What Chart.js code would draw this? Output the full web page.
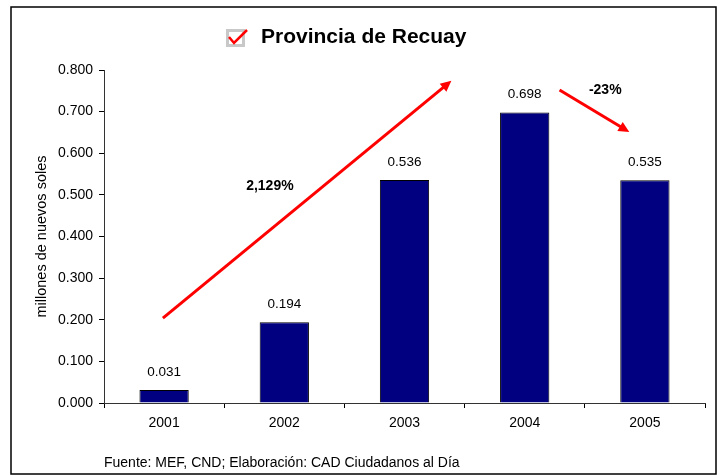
<!DOCTYPE html>
<html lang="es">
<head>
<meta charset="utf-8">
<title>Provincia de Recuay</title>
<script src="https://cdn.jsdelivr.net/npm/chart.js@4.4.0/dist/chart.umd.min.js"></script>
<style>
  body { margin: 0; background: #fff; }
  #wrap { width: 725px; height: 476px; }
</style>
</head>
<body>
<div id="wrap"><canvas id="recuay" width="725" height="476"></canvas></div>
<script>
const years = ['2001', '2002', '2003', '2004', '2005'];
const montos = [0.031, 0.194, 0.536, 0.698, 0.535];
const yTicks = [0, 0.1, 0.2, 0.3, 0.4, 0.5, 0.6, 0.7, 0.8];

// arrows and percentage labels, in data space (category index, value)
const flechas = [
  { from: [-0.01, 0.204], to: [2.39, 0.774] },
  { from: [3.29, 0.752], to: [3.87, 0.651] }
];
const rotulos = [
  { text: '2,129%', at: [0.88, 0.521] },
  { text: '-23%', at: [3.67, 0.752] }
];

const FONT = '"Liberation Sans", Arial, sans-serif';

const extras = {
  id: 'extras',
  afterDatasetsDraw(chart) {
    const { ctx, scales: { x, y } } = chart;
    ctx.save();
    // value labels
    ctx.fillStyle = '#000';
    ctx.font = '13.5px ' + FONT;
    ctx.textAlign = 'center';
    ctx.textBaseline = 'bottom';
    chart.getDatasetMeta(0).data.forEach((bar, i) => {
      ctx.fillText(montos[i].toFixed(3), bar.x, bar.y - 11);
    });
    // arrows
    ctx.strokeStyle = '#ff0000';
    ctx.fillStyle = '#ff0000';
    ctx.lineWidth = 3;
    flechas.forEach(f => {
      const x1 = x.getPixelForValue(f.from[0]), y1 = y.getPixelForValue(f.from[1]);
      const x2 = x.getPixelForValue(f.to[0]), y2 = y.getPixelForValue(f.to[1]);
      const a = Math.atan2(y2 - y1, x2 - x1);
      const head = 12;
      ctx.beginPath();
      ctx.moveTo(x1, y1);
      ctx.lineTo(x2 - Math.cos(a) * head * 0.8, y2 - Math.sin(a) * head * 0.8);
      ctx.stroke();
      ctx.beginPath();
      ctx.moveTo(x2, y2);
      ctx.lineTo(x2 - head * Math.cos(a - 0.45), y2 - head * Math.sin(a - 0.45));
      ctx.lineTo(x2 - head * Math.cos(a + 0.45), y2 - head * Math.sin(a + 0.45));
      ctx.closePath();
      ctx.fill();
    });
    // percentage labels
    ctx.fillStyle = '#000';
    ctx.font = 'bold 14px ' + FONT;
    ctx.textBaseline = 'middle';
    rotulos.forEach(r => {
      ctx.fillText(r.text, x.getPixelForValue(r.at[0]), y.getPixelForValue(r.at[1]));
    });
    ctx.restore();
  },
  afterDraw(chart) {
    const ctx = chart.ctx;
    ctx.save();
    // outer frame
    ctx.strokeStyle = '#000';
    ctx.lineWidth = 1.5;
    ctx.strokeRect(11, 7, 705, 467);
    // title with checkbox icon
    ctx.fillStyle = '#c8c8c8';
    ctx.fillRect(226, 29, 19, 18);
    ctx.fillStyle = '#fff';
    ctx.fillRect(229, 32, 13, 12);
    ctx.strokeStyle = '#ff0000';
    ctx.lineWidth = 2.5;
    ctx.beginPath();
    ctx.moveTo(229, 37);
    ctx.lineTo(234, 43);
    ctx.lineTo(247, 30);
    ctx.stroke();
    ctx.fillStyle = '#000';
    ctx.font = 'bold 21px ' + FONT;
    ctx.textAlign = 'left';
    ctx.textBaseline = 'middle';
    ctx.fillText('Provincia de Recuay', 261, 37);
    // source
    ctx.font = '14px ' + FONT;
    ctx.fillText('Fuente: MEF, CND; Elaboración: CAD Ciudadanos al Día', 104, 463);
    ctx.restore();
  }
};

new Chart(document.getElementById('recuay'), {
  type: 'bar',
  data: {
    labels: years,
    datasets: [{
      data: montos,
      backgroundColor: '#000080',
      borderColor: '#000000',
      borderWidth: 1,
      categoryPercentage: 1,
      barPercentage: 0.41
    }]
  },
  options: {
    responsive: false,
    animation: false,
    layout: { padding: { top: 70, right: 20, left: 0, bottom: 0 } },
    plugins: { legend: { display: false }, tooltip: { enabled: false }, title: { display: false } },
    scales: {
      x: {
        grid: { offset: true, drawOnChartArea: false, tickLength: 5, color: '#000' },
        border: { color: '#333', width: 1 },
        ticks: { color: '#000', font: { family: FONT, size: 14 }, padding: 7 },
        afterFit(s) { s.height = 73; }
      },
      y: {
        min: 0,
        max: 0.8,
        afterBuildTicks(s) { s.ticks = yTicks.map(v => ({ value: v })); },
        grid: { drawOnChartArea: false, tickLength: 5, color: '#000' },
        border: { color: '#333', width: 1 },
        ticks: {
          color: '#000',
          font: { family: FONT, size: 14 },
          padding: 6,
          callback: v => v.toFixed(3)
        },
        title: {
          display: true,
          text: 'millones de nuevos soles',
          color: '#000',
          font: { family: FONT, size: 14.5 },
          padding: { top: 33, bottom: 0 }
        },
        afterFit(s) { s.width = 104; }
      }
    }
  },
  plugins: [extras]
});
</script>
</body>
</html>
